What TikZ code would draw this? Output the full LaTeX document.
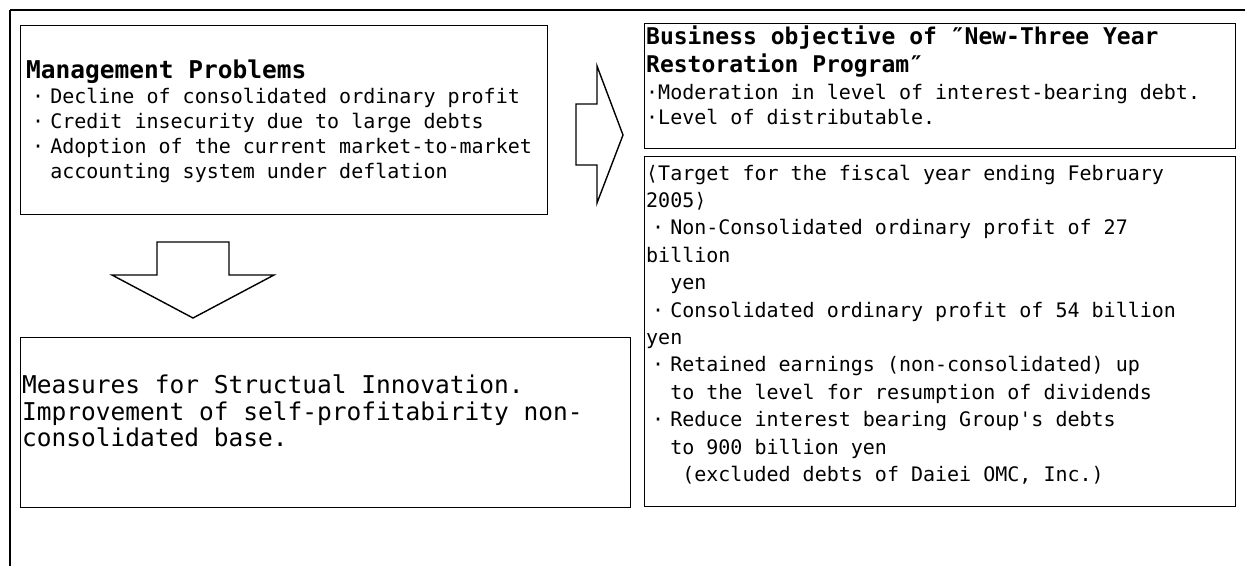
\documentclass[tikz,border=0pt]{standalone}
\usepackage{fontspec}
\newfontfamily\gothic{DejaVu Sans Mono}

% full-width bullet and indentation by character columns
\newcommand\jdot{\makebox[1.204em]{·}}
\newcommand\cols[1]{\hspace*{#1\dimexpr0.602em\relax}}

\tikzset{
    box/.style={draw, line width=1.4pt, inner sep=0pt, anchor=north west},
    txtline/.style={anchor=base west, inner sep=0pt, font=\gothic\fontsize{20}{24}\selectfont},
    headline/.style={txtline, font=\gothic\bfseries\fontsize{24.5}{28}\selectfont},
    subhead/.style={txtline, font=\gothic\bfseries\fontsize{23}{28}\selectfont},
    bigline/.style={txtline, font=\gothic\fontsize{24.5}{28}\selectfont},
    blockarrow/.style={draw, line width=1.4pt, line join=miter},
}

\begin{document}
\begin{tikzpicture}[x=1pt, y=-1pt]
    \useasboundingbox (0,0) rectangle (1245,566);

    % frame
    \draw[line width=2.6pt] (10,10) -- (1245,10);
    \draw[line width=1.4pt] (10,10) -- (10,566);

    % problems
    \node[box, minimum width=527pt, minimum height=189pt] (problems) at (20,25) {};
    \node[headline] (probhead) at (26,78) {Management Problems};
    \foreach \txt [count=\i] in {
        {\jdot Decline of consolidated ordinary profit},
        {\jdot Credit insecurity due to large debts},
        {\jdot Adoption of the current market-to-market},
        {\cols{2}accounting system under deflation}} {
        \node[txtline] (prob\i) at (26,78+25*\i) {\txt};
    }

    % objective
    \node[box, minimum width=591pt, minimum height=125pt] (objective) at (644,23) {};
    \node[subhead] (objhead1) at (646,44) {Business objective of ″New-Three Year};
    \node[subhead] (objhead2) at (646,72) {Restoration Program″};
    \node[txtline] (obj1) at (646,99) {·Moderation in level of interest-bearing debt.};
    \node[txtline] (obj2) at (646,124) {·Level of distributable.};

    % targets
    \node[box, minimum width=591pt, minimum height=350pt] (target) at (644,156) {};
    \foreach \txt [count=\i from 0] in {
        {⟨Target for the fiscal year ending February},
        {2005⟩},
        {\jdot Non-Consolidated ordinary profit of 27},
        {billion},
        {\cols{2}yen},
        {\jdot Consolidated ordinary profit of 54 billion},
        {yen},
        {\jdot Retained earnings (non-consolidated) up},
        {\cols{2}to the level for resumption of dividends},
        {\jdot Reduce interest bearing Group's debts},
        {\cols{2}to 900 billion yen},
        {\cols{3}(excluded debts of Daiei OMC, Inc.)}} {
        \node[txtline] (tgt\i) at (646,180+27.4*\i) {\txt};
    }

    % measures
    \node[box, minimum width=610pt, minimum height=170pt] (measures) at (20,337) {};
    \node[bigline] (meas1) at (22,393) {Measures for Structual Innovation.};
    \node[bigline] (meas2) at (22,420) {Improvement of self-profitabirity non-};
    \node[bigline] (meas3) at (22,446) {consolidated base.};

    % block arrows
    \draw[blockarrow] (576,104) -- (597,104) -- (597,66) -- (623,135)
        -- (597,203) -- (597,165) -- (576,165) -- cycle;
    \draw[blockarrow] (157,242) -- (229,242) -- (229,275) -- (274,275)
        -- (193,318) -- (112,275) -- (157,275) -- cycle;
\end{tikzpicture}
\end{document}
